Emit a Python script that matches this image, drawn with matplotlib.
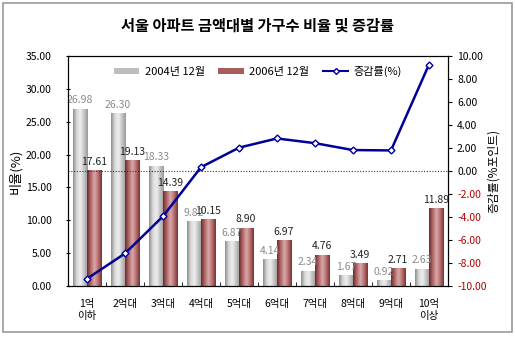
import matplotlib
matplotlib.use("Agg")
import matplotlib.pyplot as plt
import numpy as np
from matplotlib.patches import Rectangle, Patch
from matplotlib.lines import Line2D
from matplotlib.colors import LinearSegmentedColormap

plt.rcParams['font.family'] = ['Noto Sans CJK KR', 'DejaVu Sans']

categories = ['1억\n이하', '2억대', '3억대', '4억대', '5억대', '6억대', '7억대', '8억대', '9억대', '10억\n이상']
share_2004 = [26.98, 26.30, 18.33, 9.82, 6.87, 4.14, 2.34, 1.67, 0.92, 2.63]
share_2006 = [17.61, 19.13, 14.39, 10.15, 8.90, 6.97, 4.76, 3.49, 2.71, 11.89]
change = [-9.37, -7.17, -3.94, 0.33, 2.03, 2.83, 2.42, 1.82, 1.79, 9.26]
left_ticks = [0, 5, 10, 15, 20, 25, 30, 35]
right_ticks = [-10, -8, -6, -4, -2, 0, 2, 4, 6, 8, 10]

W, H = 515, 337
fig = plt.figure(figsize=(W / 100, H / 100), dpi=100)
ax = fig.add_axes([68 / W, 1 - 286 / H, 380 / W, 230 / H])
ax2 = ax.twinx()

x = np.arange(len(categories))
bw = 0.37

grey_cmap = LinearSegmentedColormap.from_list('g', ['#8e8e8e', '#d8d8d8', '#eeeeee', '#c4c4c4', '#9a9a9a'])
red_cmap = LinearSegmentedColormap.from_list('r', ['#6e2a2a', '#b06868', '#dba8a8', '#b87070', '#7a3030'])
grad = np.linspace(0, 1, 64).reshape(1, -1)

def gbar(xc, h, cmap):
    x0 = xc - bw / 2
    r = Rectangle((x0, 0), bw, h, facecolor='none', edgecolor='none')
    ax.add_patch(r)
    im = ax.imshow(grad, cmap=cmap, extent=(x0, x0 + bw, 0, h), aspect='auto', zorder=2, interpolation='bilinear')
    im.set_clip_path(r)

for i in range(len(categories)):
    gbar(x[i] - bw / 2, share_2004[i], grey_cmap)
    gbar(x[i] + bw / 2, share_2006[i], red_cmap)

for i in range(len(categories)):
    ax.text(x[i] - bw / 2, share_2004[i] + 0.5, f'{share_2004[i]:.2f}', ha='center', va='bottom',
            fontsize=7.5, color='#8a8a8a', zorder=5)
for i in range(len(categories)):
    ax.text(x[i] + bw / 2, share_2006[i] + 0.5, f'{share_2006[i]:.2f}', ha='center', va='bottom',
            fontsize=7.5, color='#222222', zorder=5)

ax.set_xlim(-0.5, len(categories) - 0.5)
ax.set_ylim(0, 35)
ax.set_yticks(left_ticks)
ax.set_yticklabels([f'{v:.2f}' for v in left_ticks], fontsize=7.5)
ax.set_xticks(x)
ax.set_xticklabels(categories, fontsize=7.5, linespacing=1.3)
ax.tick_params(axis='x', length=0, pad=9)
ax.set_xticks(np.arange(-0.5, len(categories), 1), minor=True)
ax.tick_params(axis='x', which='minor', length=3, direction='in')
ax.tick_params(axis='y', length=3, direction='inout', pad=10)
ax.set_ylabel('비율(%)', fontsize=9.5, labelpad=3)

ax2.plot(x, change, color='#000099', lw=1.8, marker='D', markersize=3.5,
         markerfacecolor='white', markeredgecolor='#000099', zorder=6)
ax2.axhline(0, color='#333333', lw=0.8, ls=(0, (1, 1.5)), zorder=4)
ax2.set_ylim(-10, 10)
ax2.set_yticks(right_ticks)
ax2.set_yticklabels([f'{v:.2f}' for v in right_ticks], fontsize=7.5)
for lbl, v in zip(ax2.get_yticklabels(), right_ticks):
    lbl.set_color('#b00000' if v < 0 else 'black')
ax2.tick_params(axis='y', length=3)
ax2.set_ylabel('증감률(%포인트)', fontsize=8.5, labelpad=0)

for a in (ax, ax2):
    for s in a.spines.values():
        s.set_color('black')
        s.set_linewidth(0.8)

handles = [Patch(facecolor='#bdbdbd', edgecolor='none'),
           Patch(facecolor='#a85c5c', edgecolor='none'),
           Line2D([], [], color='#000099', lw=1.5, marker='D', markersize=3,
                  markerfacecolor='white', markeredgecolor='#000099')]
ax2.legend(handles, ['2004년 12월', '2006년 12월', '증감률(%)'], loc='upper center',
           bbox_to_anchor=(0.5, 1.0), ncol=3, frameon=False, fontsize=8,
           handlelength=2.3, handleheight=0.5, columnspacing=1.2, handletextpad=0.5)

fig.text(0.5, 1 - 26 / H, '서울 아파트 금액대별 가구수 비율 및 증감률', ha='center', va='center',
         fontsize=11, fontweight='bold')
fig.patches.append(Rectangle((3 / W, 1 - 332 / H), 509 / W, 329 / H, transform=fig.transFigure,
                             facecolor='none', edgecolor='#999999', lw=1.2))

fig.savefig('out.png', dpi=100)
